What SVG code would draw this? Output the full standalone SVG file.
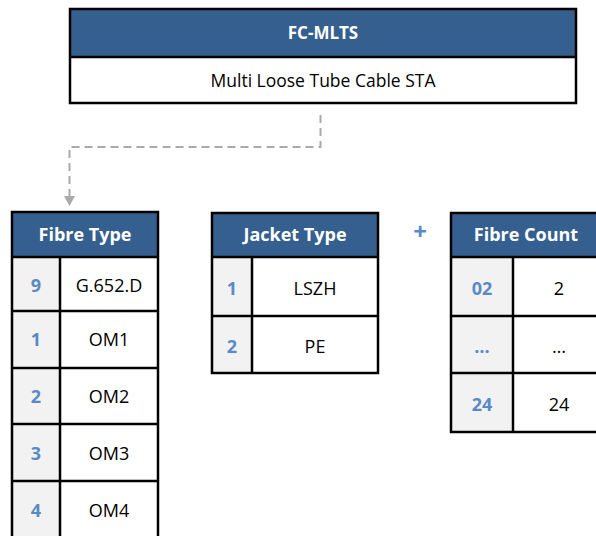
<svg xmlns="http://www.w3.org/2000/svg" width="596" height="536" viewBox="0 0 596 536">
<defs>
<style>
.hdr{fill:#355f8f;}
.box{fill:none;stroke:#000;stroke-width:2.5;}
.line{stroke:#000;stroke-width:2.5;}
.key{fill:#f2f2f2;}
.cell{fill:#fff;}
.ht{font-family:"Open Sans","Liberation Sans",sans-serif;font-weight:bold;font-size:18px;fill:#fff;text-anchor:middle;}
.kt{font-family:"Open Sans","Liberation Sans",sans-serif;font-weight:bold;font-size:18px;fill:#5a8ac6;text-anchor:middle;}
.vt{font-family:"Open Sans","Liberation Sans",sans-serif;font-size:18px;fill:#000;text-anchor:middle;}
.conn{fill:none;stroke:#aaaaaa;stroke-width:2;stroke-dasharray:8 5;}
</style>
</defs>
<rect width="596" height="536" fill="#fff"/>

<g id="connectors">
<path class="conn" d="M320.5,115 V147 H69.5 V197"/>
<path d="M64,196 L75,196 L69.5,206 Z" fill="#aaaaaa"/>
</g>

<g id="fc-mlts">
<rect x="70" y="9" width="506" height="48" class="hdr"/>
<rect x="70" y="57" width="506" height="46" class="cell"/>
<rect x="70" y="9" width="506" height="94" class="box"/>
<line x1="70" y1="57" x2="576" y2="57" class="line"/>
<text x="323" y="39" class="ht" style="font-size:17px">FC-MLTS</text>
<text x="323" y="87" class="vt" style="font-size:17.5px">Multi Loose Tube Cable STA</text>
</g>

<g id="fibre-type">
<rect x="12" y="212" width="146" height="45" class="hdr"/>
<rect x="12" y="257" width="48" height="282" class="key"/>
<rect x="60" y="257" width="98" height="282" class="cell"/>
<path class="box" d="M12,540 V212 H158 V540"/>
<line x1="12" y1="257" x2="158" y2="257" class="line"/>
<line x1="60" y1="257" x2="60" y2="540" class="line"/>
<line x1="12" y1="311" x2="158" y2="311" class="line"/>
<line x1="12" y1="368" x2="158" y2="368" class="line"/>
<line x1="12" y1="424" x2="158" y2="424" class="line"/>
<line x1="12" y1="481" x2="158" y2="481" class="line"/>
<text x="85" y="241" class="ht">Fibre Type</text>
<text x="36" y="292" class="kt">9</text><text x="109" y="292" class="vt">G.652.D</text>
<text x="36" y="346" class="kt">1</text><text x="109" y="346" class="vt">OM1</text>
<text x="36" y="403" class="kt">2</text><text x="109" y="403" class="vt">OM2</text>
<text x="36" y="460" class="kt">3</text><text x="109" y="460" class="vt">OM3</text>
<text x="36" y="517" class="kt">4</text><text x="109" y="517" class="vt">OM4</text>
</g>

<g id="jacket-type">
<rect x="212" y="213" width="166" height="44" class="hdr"/>
<rect x="212" y="257" width="40" height="116" class="key"/>
<rect x="252" y="257" width="126" height="116" class="cell"/>
<rect x="212" y="213" width="166" height="160" class="box"/>
<line x1="212" y1="257" x2="378" y2="257" class="line"/>
<line x1="252" y1="257" x2="252" y2="373" class="line"/>
<line x1="212" y1="316" x2="378" y2="316" class="line"/>
<text x="295" y="241" class="ht">Jacket Type</text>
<text x="232" y="295" class="kt">1</text><text x="315" y="295" class="vt">LSZH</text>
<text x="232" y="353" class="kt">2</text><text x="315" y="353" class="vt">PE</text>
</g>

<g id="plus">
<text x="420" y="240" font-family="Open Sans, Liberation Sans, sans-serif" font-size="24" font-weight="bold" fill="#5a8ac6" text-anchor="middle">+</text>
</g>

<g id="fibre-count">
<rect x="451" y="213" width="150" height="44" class="hdr"/>
<rect x="451" y="257" width="62" height="175" class="key"/>
<rect x="513" y="257" width="88" height="175" class="cell"/>
<path class="box" d="M600,213 H451 V432 H600"/>
<line x1="451" y1="257" x2="600" y2="257" class="line"/>
<line x1="513" y1="257" x2="513" y2="432" class="line"/>
<line x1="451" y1="316" x2="600" y2="316" class="line"/>
<line x1="451" y1="373" x2="600" y2="373" class="line"/>
<text x="526" y="241" class="ht">Fibre Count</text>
<text x="482" y="295" class="kt">02</text><text x="559" y="295" class="vt">2</text>
<text x="482" y="353" class="kt">…</text><text x="559" y="353" class="vt">…</text>
<text x="482" y="411" class="kt">24</text><text x="559" y="411" class="vt">24</text>
</g>
</svg>
